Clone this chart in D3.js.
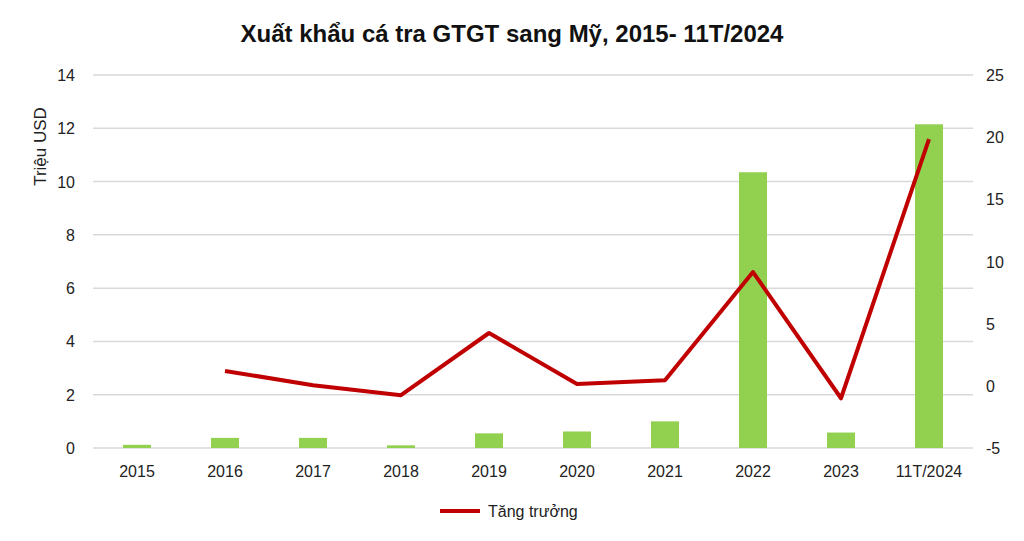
<!DOCTYPE html><html><head><meta charset="utf-8"><script src="https://cdn.jsdelivr.net/npm/d3@7"></script>
<style>body{margin:0;background:#fff;font-family:Arial,"Liberation Sans",sans-serif}</style></head><body><svg id="c" width="1024" height="541"></svg><script>
const categories=["2015","2016","2017","2018","2019","2020","2021","2022","2023","11T/2024"];
const exportValues=[0.12,0.38,0.38,0.1,0.55,0.62,1.0,10.35,0.58,12.15];
const growth=[null,1.2,0.05,-0.75,4.25,0.15,0.45,9.15,-1.0,19.85];
const leftTicks=[0,2,4,6,8,10,12,14];
const rightTicks=[-5,0,5,10,15,20,25];
const svg=d3.select("#c");
const L=93,R=973,T=75,B=448;
const x=d3.scaleBand().domain(categories).range([L,R]);
const y=d3.scaleLinear().domain([0,14]).range([B,T]);
const y2=d3.scaleLinear().domain([-5,25]).range([B,T]);
svg.append("text").attr("x",512).attr("y",42).attr("text-anchor","middle").attr("font-size",24).attr("font-weight","bold").attr("fill","#111").text("Xuất khẩu cá tra GTGT sang Mỹ, 2015- 11T/2024");
svg.selectAll(".g").data(leftTicks).join("line").attr("x1",L).attr("x2",R).attr("y1",d=>y(d)).attr("y2",d=>y(d)).attr("stroke","#d9d9d9").attr("stroke-width",1.5);
svg.selectAll(".lt").data(leftTicks).join("text").attr("x",L-18).attr("y",d=>y(d)+6).attr("text-anchor","end").attr("font-size",16).attr("fill","#222").text(d=>d);
svg.selectAll(".rt").data(rightTicks).join("text").attr("x",R+13).attr("y",d=>y2(d)+6).attr("text-anchor","start").attr("font-size",16).attr("fill","#222").text(d=>d);
svg.append("text").attr("transform",`translate(46,${(T+B)/2-115}) rotate(-90)`).attr("text-anchor","middle").attr("font-size",17).attr("fill","#222").text("Triệu USD");
svg.selectAll(".b").data(exportValues).join("rect").attr("x",(d,i)=>x(categories[i])+x.bandwidth()/2-14).attr("width",28).attr("y",d=>y(d)).attr("height",d=>B-y(d)).attr("fill","#92d050");
svg.selectAll(".xl").data(categories).join("text").attr("x",d=>x(d)+x.bandwidth()/2).attr("y",B+29).attr("text-anchor","middle").attr("font-size",16).attr("fill","#222").text(d=>d);
const line=d3.line().defined(d=>d!=null).x((d,i)=>x(categories[i])+x.bandwidth()/2).y(d=>y2(d));
svg.append("path").datum(growth).attr("d",line).attr("fill","none").attr("stroke","#c00000").attr("stroke-width",4).attr("stroke-linejoin","round");
svg.append("line").attr("x1",440).attr("x2",480).attr("y1",511).attr("y2",511).attr("stroke","#c00000").attr("stroke-width",4);
svg.append("text").attr("x",488).attr("y",517).attr("font-size",16).attr("fill","#222").text("Tăng trưởng");
</script></body></html>
